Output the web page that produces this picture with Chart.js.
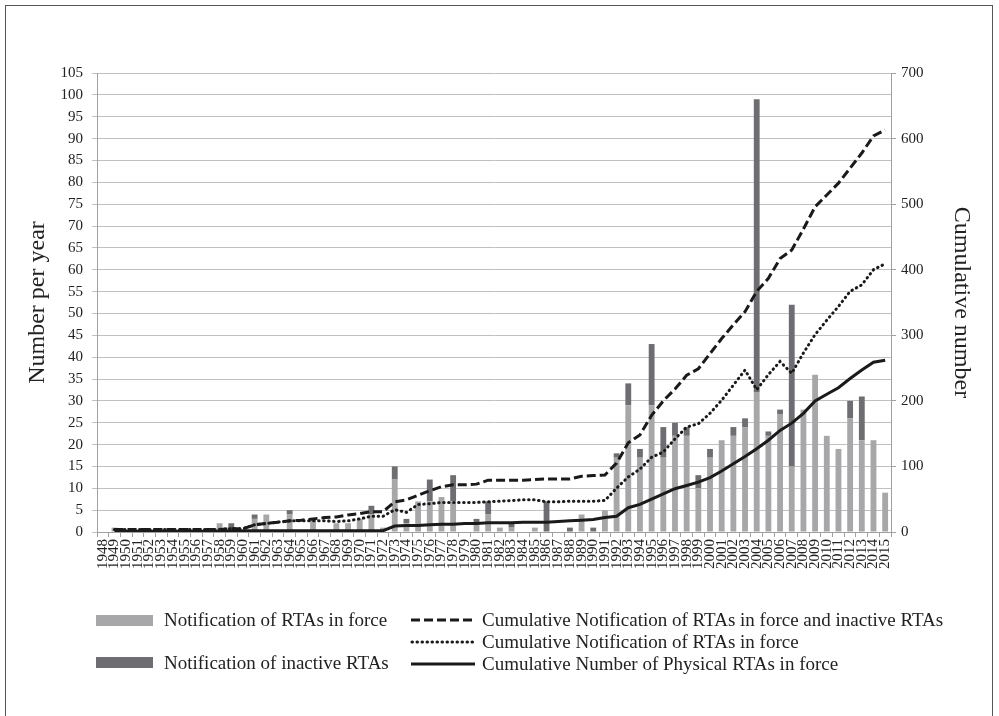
<!DOCTYPE html>
<html>
<head>
<meta charset="utf-8">
<script src="https://cdn.jsdelivr.net/npm/chart.js@4.4.1/dist/chart.umd.min.js"></script>
<style>
  body { margin: 0; background: #fff; }
  #wrap { position: relative; width: 999px; height: 716px; font-family: "Liberation Serif", "Times New Roman", serif; color: #222; }
  #chart1 { position: absolute; left: 0; top: 0; }
  .sw { position: absolute; width: 57px; height: 11px; }
  .lg { position: absolute; font-size: 19px; height: 22px; line-height: 22px; white-space: nowrap; }
  .ln { position: absolute; width: 66px; height: 10px; }
</style>
</head>
<body>
<div id="wrap">
  <canvas id="chart1" width="999" height="716"></canvas>

  <div class="sw" style="left:96px; top:615px; background:#a7a7aa;"></div>
  <div class="lg" style="left:164px; top:609px;">Notification of RTAs in force</div>
  <div class="sw" style="left:96px; top:657px; background:#6e6e72;"></div>
  <div class="lg" style="left:164px; top:652px;">Notification of inactive RTAs</div>

  <svg class="ln" style="left:410px; top:615px;"><line x1="1" y1="5" x2="65" y2="5" stroke="#1a1a1a" stroke-width="3" stroke-dasharray="9 4"/></svg>
  <div class="lg" style="left:482px; top:609px;">Cumulative Notification of RTAs in force and inactive RTAs</div>
  <svg class="ln" style="left:410px; top:637px;"><line x1="2" y1="5" x2="65" y2="5" stroke="#1a1a1a" stroke-width="3" stroke-linecap="round" stroke-dasharray="0.5 4.5"/></svg>
  <div class="lg" style="left:482px; top:631px;">Cumulative Notification of RTAs in force</div>
  <svg class="ln" style="left:410px; top:659px;"><line x1="1" y1="5" x2="65" y2="5" stroke="#1a1a1a" stroke-width="3"/></svg>
  <div class="lg" style="left:482px; top:653px;">Cumulative Number of Physical RTAs in force</div>
</div>

<script>
// years 1948 - 2015
const years = [];
for (let y = 1948; y <= 2015; y++) years.push(String(y));

// notifications per year (left axis)
const inForce = [
  0, 1, 0, 0, 0, 0, 0, 0, 0, 0,        // 1948-1957
  2, 0, 0, 3, 4, 0, 4, 0, 3, 0,        // 1958-1967
  2, 2, 3, 4, 1, 12, 2, 7, 7, 8,       // 1968-1977
  7, 0, 2, 4, 1, 1, 0, 1, 0, 0,        // 1978-1987
  0, 4, 0, 5, 17, 29, 17, 29, 17, 22,  // 1988-1997
  22, 10, 17, 21, 22, 24, 32, 22, 27, 15, // 1998-2007
  28, 36, 22, 19, 26, 21, 21, 9        // 2008-2015
];
const inactive = [
  0, 0, 0, 0, 0, 0, 0, 0, 0, 0,
  0, 2, 0, 1, 0, 0, 1, 0, 0, 0,
  0, 0, 0, 2, 0, 3, 1, 0, 5, 0,
  6, 0, 1, 3, 0, 1, 0, 0, 7, 0,
  1, 0, 1, 0, 1, 5, 2, 14, 7, 3,
  2, 3, 2, 0, 2, 2, 67, 1, 1, 37,
  0, 0, 0, 0, 4, 10, 0, 0
];

// cumulative series (right axis)
const cumAll = [
  null, 4, 4, 4, 4, 4, 4, 4, 4, 4,
  4, 5, 5, 11, 13, 15, 17, 18, 20, 22,
  23, 26, 28, 31, 31, 46, 49, 56, 63, 69,
  72, 72, 73, 79, 79, 79, 79, 80, 81, 81,
  81, 85, 86, 87, 105, 136, 148, 178, 200, 218,
  239, 249, 272, 295, 316, 336, 367, 387, 417, 430,
  462, 496, 514, 532, 555, 578, 604, 613
];
const cumInForce = [
  null, 4, 4, 4, 4, 4, 4, 4, 4, 4,
  4, 5, 5, 11, 13, 15, 17, 17, 17, 17,
  16, 17, 20, 24, 24, 34, 30, 42, 43, 45,
  45, 45, 45, 46, 47, 48, 49, 49, 46, 46,
  47, 47, 47, 48, 67, 84, 96, 114, 122, 142,
  160, 165, 181, 201, 224, 247, 217, 240, 260, 242,
  273, 301, 323, 344, 367, 377, 400, 409
];
const cumPhysical = [
  null, 1, 1, 1, 1, 1, 1, 1, 1, 1,
  1, 1, 2, 2, 2, 2, 2, 2, 2, 2,
  2, 2, 2, 2, 2, 9, 10, 10, 11, 12,
  12, 13, 13, 14, 14, 14, 15, 15, 15, 16,
  17, 18, 19, 22, 24, 37, 42, 50, 58, 66,
  71, 76, 83, 93, 104, 115, 127, 140, 155, 166,
  181, 200, 210, 220, 234, 247, 259, 262
];

const serif = '"Liberation Serif", "Times New Roman", serif';

// thin frame round the figure
const framePlugin = {
  id: 'frame',
  afterDraw(chart) {
    const c = chart.ctx;
    c.save();
    c.strokeStyle = '#555';
    c.lineWidth = 1;
    c.strokeRect(5.5, 5.5, 987, 715);
    c.restore();
  }
};

document.addEventListener("DOMContentLoaded", function() {
  const ctx1 = document.getElementById('chart1').getContext('2d');
  new Chart(ctx1, {
    type: 'bar',
    data: {
      labels: years,
      datasets: [
        {
          type: 'line', label: 'Cumulative Notification of RTAs in force and inactive RTAs',
          data: cumAll, yAxisID: 'y1', order: 1,
          borderColor: '#1a1a1a', borderWidth: 3, borderDash: [9, 4],
          pointRadius: 0, fill: false, tension: 0
        },
        {
          type: 'line', label: 'Cumulative Notification of RTAs in force',
          data: cumInForce, yAxisID: 'y1', order: 1,
          borderColor: '#1a1a1a', borderWidth: 3, borderDash: [0.5, 4.5], borderCapStyle: 'round',
          pointRadius: 0, fill: false, tension: 0
        },
        {
          type: 'line', label: 'Cumulative Number of Physical RTAs in force',
          data: cumPhysical, yAxisID: 'y1', order: 1,
          borderColor: '#1a1a1a', borderWidth: 3,
          pointRadius: 0, fill: false, tension: 0
        },
        {
          label: 'Notification of RTAs in force',
          data: inForce, yAxisID: 'y', order: 5, stack: 'n',
          backgroundColor: '#a7a7aa', barPercentage: 0.5, categoryPercentage: 1
        },
        {
          label: 'Notification of inactive RTAs',
          data: inactive, yAxisID: 'y', order: 5, stack: 'n',
          backgroundColor: '#6e6e72', barPercentage: 0.5, categoryPercentage: 1
        }
      ]
    },
    options: {
      responsive: false,
      animation: false,
      layout: { padding: { left: 19, right: 19, top: 73, bottom: 139 } },
      plugins: { legend: { display: false }, tooltip: { enabled: false } },
      scales: {
        x: {
          stacked: true,
          offset: true,
          grid: { display: true, drawOnChartArea: false, offset: true, tickLength: 5, color: '#a0a0a0' },
          border: { color: '#a0a0a0' },
          ticks: { autoSkip: false, minRotation: 90, maxRotation: 90, padding: 2,
                   color: '#222', font: { family: serif, size: 15 } },
          afterFit: function(s) { s.height = 45; }
        },
        y: {
          stacked: true,
          position: 'left',
          min: 0, max: 105,
          ticks: { stepSize: 5, padding: 9, color: '#222', font: { family: serif, size: 15 } },
          grid: { color: '#c0c0c0', tickLength: 5 },
          border: { color: '#a0a0a0' },
          title: { display: true, text: 'Number per year', color: '#222',
                   font: { family: serif, size: 24 }, padding: 4 },
          afterFit: function(s) { s.width = 78; }
        },
        y1: {
          position: 'right',
          min: 0, max: 700,
          ticks: { stepSize: 100, padding: 5, color: '#222', font: { family: serif, size: 15 } },
          grid: { drawOnChartArea: false, tickLength: 5, color: '#a0a0a0' },
          border: { color: '#a0a0a0' },
          title: { display: true, text: 'Cumulative number', color: '#222',
                   font: { family: serif, size: 24 }, padding: 4 },
          afterFit: function(s) { s.width = 89; }
        }
      }
    },
    plugins: [framePlugin]
  });
});
</script>
</body>
</html>
